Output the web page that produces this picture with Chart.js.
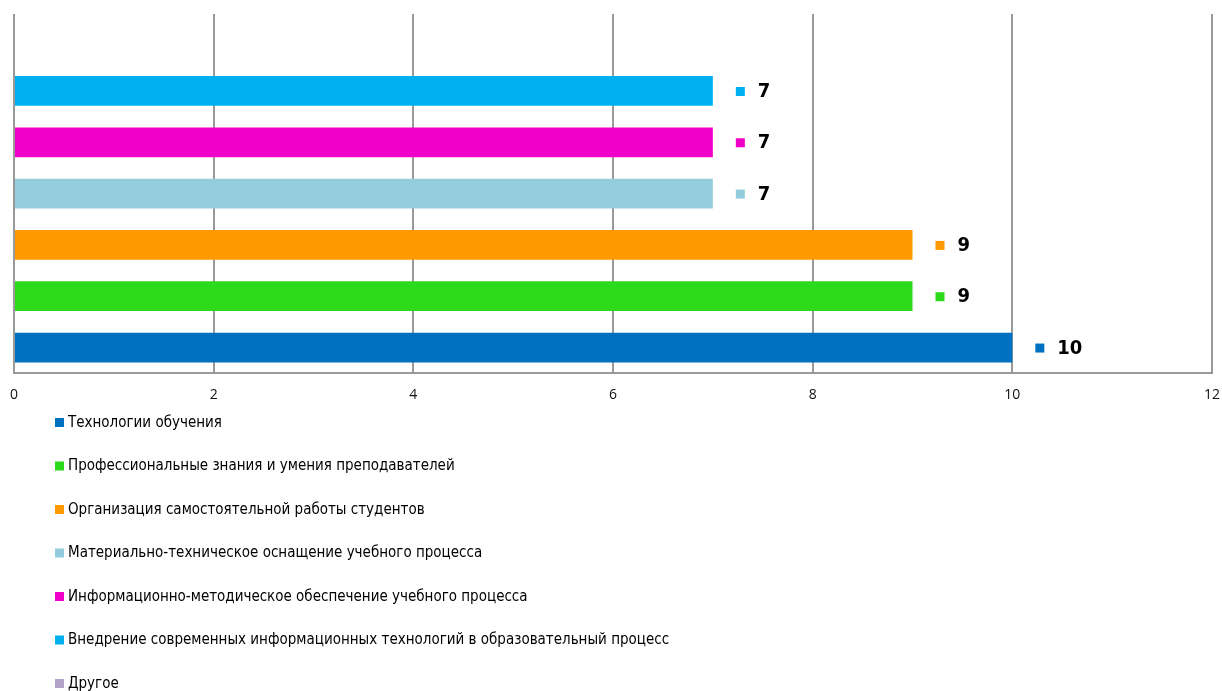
<!DOCTYPE html>
<html>
<head>
<meta charset="utf-8">
<script src="https://cdn.jsdelivr.net/npm/chart.js@4/dist/chart.umd.min.js"></script>
<style>
  html, body { margin: 0; padding: 0; background: #fff; }
  #wrap { width: 1222px; height: 691px; }
</style>
</head>
<body>
<div id="wrap"><canvas id="grafica"></canvas></div>
<script>
// top to bottom on the chart
const categorias = [
    "Другое",
    "Внедрение современных информационных технологий в образовательный процесс",
    "Информационно-методическое обеспечение учебного процесса",
    "Материально-техническое оснащение учебного процесса",
    "Организация самостоятельной работы студентов",
    "Профессиональные знания и умения преподавателей",
    "Технологии обучения"
];
const valores = [null, 7, 7, 7, 9, 9, 10];
const colores = ["#B3A2C7", "#00B0F0", "#F000C8", "#93CDDD", "#FF9900", "#2DDA1B", "#0070C0"];
const ticksX = [0, 2, 4, 6, 8, 10, 12];

const fuenteNarrow = "'Liberation Sans Narrow', 'DejaVu Sans Condensed', Arial, sans-serif";

// labels: coloured square + bold value at the end of each bar
const etiquetas = {
    id: "etiquetas",
    afterDatasetsDraw(chart) {
        const ctx = chart.ctx;
        const meta = chart.getDatasetMeta(0);
        ctx.save();
        meta.data.forEach(function (bar, i) {
            if (valores[i] === null) return;
            ctx.fillStyle = colores[i];
            ctx.fillRect(bar.x + 23, bar.y - 4, 9, 9);
            ctx.fillStyle = "#000";
            ctx.font = "bold 20px " + fuenteNarrow;
            ctx.textBaseline = "middle";
            ctx.textAlign = "left";
            ctx.fillText(String(valores[i]), bar.x + 45, bar.y + 1);
        });
        ctx.restore();
    }
};

// vertical legend at bottom-left, same order as in the original (bottom bar first)
const leyenda = {
    id: "leyenda",
    afterDraw(chart) {
        const ctx = chart.ctx;
        ctx.save();
        ctx.font = "15px " + fuenteNarrow;
        ctx.textBaseline = "middle";
        ctx.textAlign = "left";
        let y = 423;
        for (let i = categorias.length - 1; i >= 0; i--) {
            ctx.fillStyle = colores[i];
            ctx.fillRect(55, y - 5, 9, 9);
            ctx.fillStyle = "#000";
            ctx.fillText(categorias[i], 68, y);
            y += 43.5;
        }
        ctx.restore();
    }
};

const micanvas = document.getElementById("grafica").getContext("2d");

new Chart(micanvas, {
    type: "bar",
    data: {
        labels: categorias,
        datasets: [{
            data: valores,
            backgroundColor: colores,
            categoryPercentage: 1,
            barPercentage: 0.58
        }]
    },
    options: {
        indexAxis: "y",
        responsive: true,
        maintainAspectRatio: false,
        animation: false,
        layout: { padding: { top: 14, left: 14, right: 10, bottom: 275 } },
        plugins: {
            legend: { display: false },
            tooltip: { enabled: false }
        },
        scales: {
            x: {
                min: 0,
                max: 12,
                afterBuildTicks: function (axis) {
                    axis.ticks = ticksX.map(function (v) { return { value: v }; });
                },
                afterFit: function (axis) {
                    // let the end labels hang into the page margins
                    axis.paddingLeft = 0;
                    axis.paddingRight = 0;
                },
                grid: { color: "#999999", lineWidth: 2, drawTicks: false },
                border: { display: true, color: "#999999", width: 2 },
                ticks: {
                    padding: 13,
                    color: "#111",
                    font: { family: "'Open Sans', sans-serif", size: 14 }
                }
            },
            y: {
                display: false
            }
        }
    },
    plugins: [etiquetas, leyenda]
});
</script>
</body>
</html>
